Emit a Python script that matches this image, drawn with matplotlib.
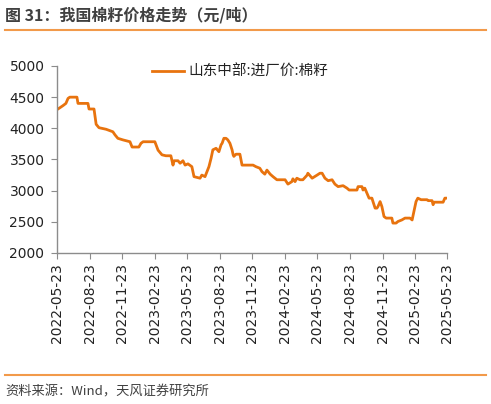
import matplotlib
matplotlib.use("Agg")
import matplotlib.pyplot as plt
import matplotlib.dates as mdates
import pandas as pd

# 山东中部:进厂价:棉籽 (元/吨)
dates = [
    "2022-05-23", "2022-05-31", "2022-06-09", "2022-06-17", "2022-06-23", "2022-06-28",
    "2022-07-18", "2022-07-21", "2022-08-18", "2022-08-21", "2022-09-04", "2022-09-10",
    "2022-09-18", "2022-10-08", "2022-10-27", "2022-11-02", "2022-11-10", "2022-11-24",
    "2022-12-14", "2022-12-20", "2023-01-08", "2023-01-14", "2023-01-20", "2023-02-22",
    "2023-03-03", "2023-03-14", "2023-03-25", "2023-04-08", "2023-04-14", "2023-04-17",
    "2023-04-28", "2023-05-04", "2023-05-12", "2023-05-18", "2023-05-26", "2023-06-06",
    "2023-06-12", "2023-06-29", "2023-07-04", "2023-07-13", "2023-07-24", "2023-07-30",
    "2023-08-04", "2023-08-13", "2023-08-21", "2023-08-27", "2023-08-30", "2023-09-04",
    "2023-09-10", "2023-09-15", "2023-09-21", "2023-09-27", "2023-09-30", "2023-10-02",
    "2023-10-08", "2023-10-19", "2023-10-25", "2023-11-25", "2023-12-03", "2023-12-14",
    "2023-12-20", "2023-12-28", "2024-01-03", "2024-01-12", "2024-01-20", "2024-01-31",
    "2024-02-23", "2024-03-02", "2024-03-13", "2024-03-16", "2024-03-22", "2024-03-27",
    "2024-04-05", "2024-04-13", "2024-04-25", "2024-04-27", "2024-05-09", "2024-05-23",
    "2024-05-31", "2024-06-06", "2024-06-14", "2024-06-23", "2024-07-04", "2024-07-12",
    "2024-07-21", "2024-08-04", "2024-08-15", "2024-08-21", "2024-09-12", "2024-09-15",
    "2024-09-26", "2024-09-29", "2024-10-04", "2024-10-10", "2024-10-16", "2024-10-24",
    "2024-10-27", "2024-11-02", "2024-11-07", "2024-11-10", "2024-11-16", "2024-11-21",
    "2024-11-27", "2024-12-03", "2024-12-19", "2024-12-22", "2024-12-31", "2025-01-05",
    "2025-01-16", "2025-01-25", "2025-02-08", "2025-02-14", "2025-02-19", "2025-02-25",
    "2025-03-02", "2025-03-11", "2025-03-28", "2025-03-31", "2025-04-11", "2025-04-14",
    "2025-04-16", "2025-05-12", "2025-05-17", "2025-05-23",
]
prices = [
    4300, 4330, 4365, 4400, 4480, 4500,
    4500, 4400, 4400, 4310, 4310, 4065,
    4010, 3985, 3945, 3895, 3840, 3815,
    3785, 3700, 3700, 3760, 3785, 3785,
    3650, 3575, 3560, 3560, 3410, 3480,
    3480, 3440, 3480, 3410, 3430, 3385,
    3225, 3200, 3250, 3225, 3385, 3520,
    3655, 3680, 3625, 3735, 3760, 3840,
    3840, 3815, 3760, 3655, 3575, 3550,
    3585, 3585, 3410, 3410, 3385, 3360,
    3305, 3265, 3330, 3265, 3225, 3175,
    3175, 3105, 3145, 3190, 3145, 3200,
    3175, 3175, 3250, 3280, 3200, 3250,
    3280, 3280, 3200, 3160, 3175, 3105,
    3065, 3080, 3040, 3010, 3010, 3065,
    3065, 3010, 3040, 2960, 2880, 2880,
    2825, 2720, 2720, 2745, 2825, 2745,
    2585, 2560, 2560, 2480, 2480, 2505,
    2530, 2560, 2560, 2530, 2665, 2825,
    2880, 2855, 2855, 2840, 2840, 2775,
    2815, 2815, 2880, 2880,
]
tick_dates = ["2022-05-23", "2022-08-23", "2022-11-23", "2023-02-23", "2023-05-23",
              "2023-08-23", "2023-11-23", "2024-02-23", "2024-05-23", "2024-08-23",
              "2024-11-23", "2025-02-23", "2025-05-23"]
yticks = [2000, 2500, 3000, 3500, 4000, 4500, 5000]

title = "图 31：我国棉籽价格走势（元/吨）"
series_name = "山东中部:进厂价:棉籽"
source = "资料来源：Wind，天风证券研究所"

cjk = ["Noto Sans CJK SC", "DejaVu Sans"]
orange = "#E8730E"
rule = "#F29A4A"
grey = "#8C8C8C"

x = pd.to_datetime(dates)
ticks = pd.to_datetime(tick_dates)

fig = plt.figure(figsize=(4.91, 4.04), dpi=100)
ax = fig.add_axes([57 / 491, 1 - 253 / 404, 390 / 491, 187 / 404])

ax.plot(x, prices, color=orange, lw=2.0, label=series_name)

ax.set_xlim(ticks[0], ticks[-1])
ax.set_ylim(2000, 5000)
ax.set_yticks(yticks)
ax.set_xticks(ticks)
ax.xaxis.set_major_formatter(mdates.DateFormatter("%Y-%m-%d"))
ax.tick_params(axis="x", labelrotation=90, labelsize=10, length=4, color=grey,
               labelcolor="#222222")
ax.tick_params(axis="y", labelsize=10, length=4, pad=5, color=grey,
               labelcolor="#222222")

for s in ["top", "right"]:
    ax.spines[s].set_visible(False)
for s in ["left", "bottom"]:
    ax.spines[s].set_color(grey)
    ax.spines[s].set_linewidth(1.0)

leg = ax.legend(loc="upper center", bbox_to_anchor=(0.47, 1.075), frameon=False,
                handlelength=2.2, handletextpad=0.3,
                prop={"family": cjk, "size": 10.5})
for t in leg.get_texts():
    t.set_color("#222222")

fig.text(5 / 491, 1 - 15 / 404, title, family=cjk, fontsize=11.5, fontweight="bold",
         color="#404040", va="center", ha="left")
fig.add_artist(plt.Line2D([5 / 491, 486 / 491], [1 - 29.5 / 404] * 2, color=rule, lw=1.5))
fig.add_artist(plt.Line2D([5 / 491, 486 / 491], [1 - 375 / 404] * 2, color=rule, lw=1.5))
fig.text(5 / 491, 1 - 392 / 404, source, family=cjk, fontsize=9.5,
         color="#404040", va="center", ha="left")

fig.savefig("out.png", dpi=100)
